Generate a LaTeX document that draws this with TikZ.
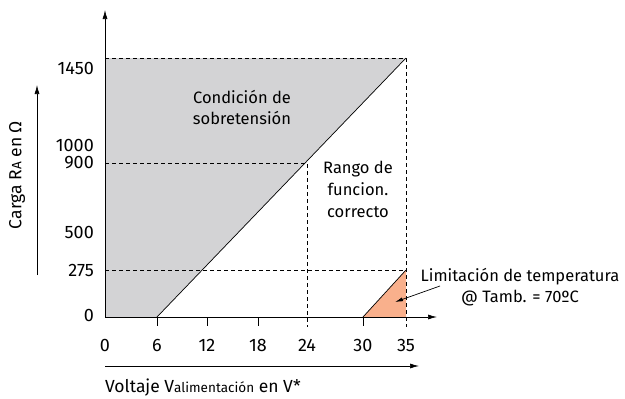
\documentclass[tikz,border=0pt]{standalone}
\usepackage{fontspec}
\setmainfont{Fira Sans}
\usetikzlibrary{positioning,arrows.meta}

\definecolor{overgray}{HTML}{D3D3D5}
\definecolor{tempfill}{HTML}{F9B08C}
\tikzstyle{axis}=[draw,line width=0.7pt,-{Latex[length=9pt,width=5pt]}]
\tikzstyle{guide}=[draw,line width=0.7pt,dash pattern=on 4pt off 3pt]
\tikzstyle{ticklab}=[inner sep=1pt,font=\numsize]
\tikzstyle{note}=[align=center,inner sep=0pt]
\tikzstyle{title}=[inner sep=0pt,font=\titsize]
\newcommand{\txtsize}{\fontsize{16.5}{21}\selectfont}
\newcommand{\titsize}{\fontsize{17.5}{20}\selectfont}
\newcommand{\numsize}{\fontsize{18}{20}\selectfont}
\newcommand{\subsize}{\fontsize{13.5}{13.5}\selectfont}

\begin{document}
\begin{tikzpicture}[x=1pt, y=-1pt, font=\txtsize]
    \useasboundingbox (0,0) rectangle (625,399);
    % First we fill the regions
    \fill[overgray] (105,58) -- (406,58) -- (157,317) -- (105,317) -- cycle;
    \fill[tempfill] (363,317) -- (406,270) -- (406,317) -- cycle;
    % Dashed guide lines
    \path[guide] (105,58) -- (406,58) -- (406,327);
    \path[guide] (105,163) -- (307,163) -- (307,327);
    \path[guide] (105,270) -- (406,270);
    % Axes
    \coordinate (orig) at (105,317);
    \coordinate (ytop) at (105,10);
    \coordinate (xend) at (437,317);
    \path[axis] (orig) -- (ytop);
    \path[axis] (orig) -- (xend);
    \draw[line width=0.7pt] (157,317) -- (406,58);
    \draw[line width=0.7pt] (363,317) -- (406,270);
    \foreach \px in {157,207,258,363}
        \draw[line width=0.7pt] (\px,317) -- (\px,326);
    % Tick labels
    \foreach \px/\name in {105/0,157/6,207/12,258/18,307/24,363/30,406/35}
        \node[ticklab] (x\name) at (\px,345) {\name};
    \foreach \py/\name in {68/1450,145/1000,163/900,232/500,270/275,315/0}
        \node[ticklab,anchor=east] (y\name) at (95,\py) {\name};
    % Region labels
    \node[note] (over) at (242,107) {Condición de\\sobretensión};
    \node[note,align=center] (range) at (358,189) {Rango de\\[1pt]funcion.\\[1pt]correcto};
    \node[note] (templab) at (520,287) {Limitación de temperatura\\@ Tamb. = 70ºC};
    \coordinate (tempfrom) at (440,286);
    \coordinate (tempto) at (395,302);
    \draw[line width=0.7pt,-{Latex[length=8pt,width=4pt]}] (tempfrom) -- (tempto);
    % Axis titles
    \coordinate (ybot) at (37,275);
    \coordinate (yarr) at (37,85);
    \path[axis] (ybot) -- (yarr);
    \node[title,rotate=90] (ytitle) at (17,175) {Carga R{\subsize A} en Ω};
    \coordinate (xbeg) at (105,366);
    \coordinate (xarr) at (419,366);
    \path[axis] (xbeg) -- (xarr);
    \node[title,anchor=west] (xtitle) at (105,388) {Voltaje V{\subsize alimentación} en V*};
\end{tikzpicture}
\end{document}
